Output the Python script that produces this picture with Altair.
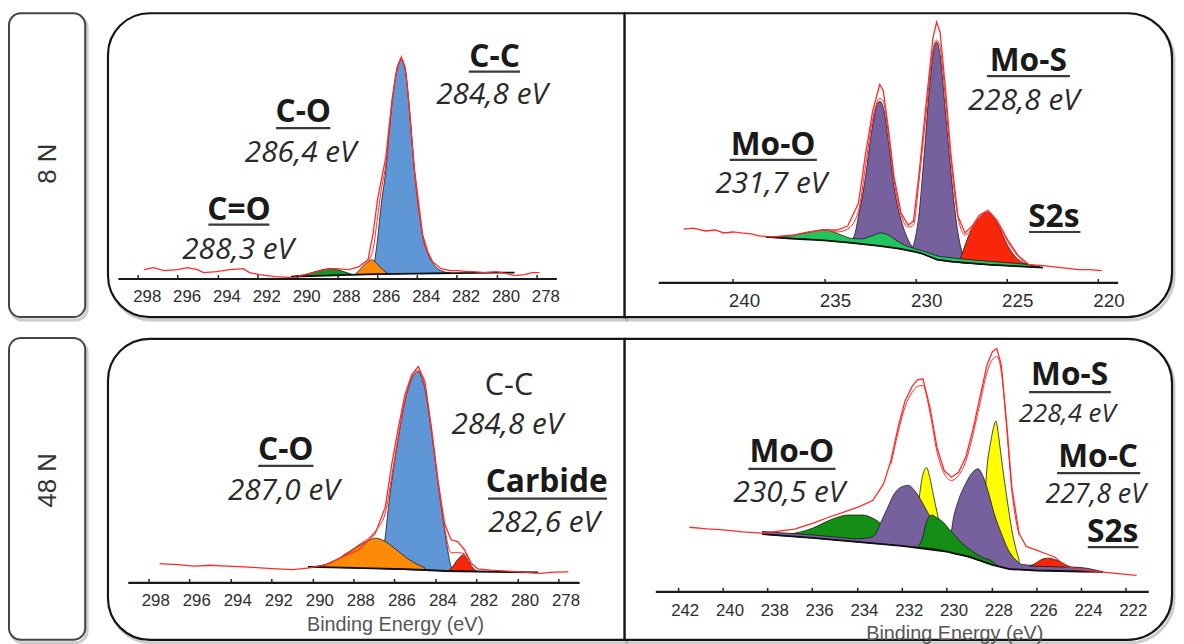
import altair as alt
import pandas as pd

AXIS_FONT = "Liberation Sans"
NOTE_FONT = "Open Sans"

BLUE = "#5f97d6"
ORANGE = "#fb8a06"
GREEN_C = "#15952a"
GREEN_MO = "#22c45e"
GREEN_DARK = "#148e14"
PURPLE = "#77609e"
RED_S = "#f8260a"
YELLOW = "#ffff00"
LINE_RED = "#ff2a2a"

# ============ 8 N : C 1s ============
c8_ticks = [298, 296, 294, 292, 290, 288, 286, 284, 282, 280, 278]
c8_red_E = [297.7, 297.2, 296.7, 296.0, 295.5, 295.0, 294.7, 294.05, 293.4, 292.7, 292.4, 291.9, 291.1, 290.2, 289.4,
            288.6, 288.1, 287.4, 286.9, 286.45, 286.2, 285.97, 285.78, 285.56, 285.25, 285.01, 284.78, 284.57, 284.4,
            284.12, 283.71, 283.45, 283.21, 282.8, 282.3, 281.95, 281.5, 281.15, 280.6, 280.0, 279.5, 279.1, 278.6,
            278.2, 277.85]
c8_red_h = [9, 11, 8, 9, 11, 9, 6, 7, 9, 10, 6, 4, 2, 1, 5, 9, 10, 9, 12, 19, 45, 80, 100, 122, 180, 212, 224, 212,
            178, 110, 44, 27, 17, 10, 8, 8, 7, 7, 6, 7, 5, 3, 4, 6, 6]
c8_fit_E = [286.45, 286.19, 285.97, 285.78, 285.56, 285.25, 285.01, 284.78, 284.57, 284.4, 284.12, 283.71, 283.45]
c8_fit_h = [18, 30, 62, 90, 115, 177, 210, 222, 210, 177, 109, 43, 26]
c8_bg_E = [290.3, 288.5, 287.0, 286.0, 284.0, 282.0, 280.0, 279.1]
c8_bg_h = [2, 3, 4, 4.5, 5, 5.5, 6, 6]
c8_cc_E = [286.3, 286.19, 285.97, 285.78, 285.56, 285.40, 285.25, 285.01, 284.78, 284.57, 284.40, 284.25, 284.12,
           283.90, 283.71, 283.45, 283.21, 282.80, 282.30]
c8_cc_top = [5, 10, 40, 76, 109, 145, 176, 209, 221, 209, 176, 140, 109, 70, 43, 25, 16, 8, 5.6]
c8_cc_base = [4.3, 4.3, 4.4, 4.5, 4.6, 4.7, 4.7, 4.8, 4.9, 5.0, 5.0, 5.0, 5.0, 5.1, 5.2, 5.3, 5.4, 5.5, 5.6]
c8_co_E = [287.1, 286.9, 286.68, 286.45, 286.27, 286.05, 285.86, 285.65, 285.44]
c8_co_top = [4, 8, 13, 17, 19, 16, 12, 8, 4.6]
c8_co_base = [3.8, 3.9, 4.0, 4.2, 4.3, 4.4, 4.5, 4.5, 4.6]
c8_cdo_E = [290.3, 289.6, 289.0, 288.6, 288.34, 288.0, 287.6, 287.2]
c8_cdo_top = [2, 4, 7.5, 9.5, 10, 9, 6.5, 3.8]
c8_cdo_base = [2, 2.5, 3, 3, 3.2, 3.4, 3.6, 3.8]
c8_bold_t = ["C-C", "C-O", "C=O"]
c8_bold_E = [280.1, 289.7, 292.92]
c8_bold_h = [214, 157.7, 59.3]
c8_ital_t = ["284,8 eV", "286,4 eV", "288,3 eV"]
c8_ital_E = [280.23, 289.83, 292.97]
c8_ital_h = [176, 117.7, 19.3]
c8_ul_x1 = [281.39, 291.07, 294.46]
c8_ul_x2 = [278.83, 288.34, 291.40]
c8_ul_h = [209, 152, 54.5]

# ============ 8 N : Mo 3d ============
m8_ticks = [240, 235, 230, 225, 220]
m8_red_E = [242.7, 242.2, 241.5, 241.0, 240.5, 240.0, 239.56, 239.0, 238.58, 237.8, 237.2, 236.63, 235.85, 234.98,
            234.29, 233.71, 233.12, 232.73, 232.34, 231.95, 231.76, 231.46, 231.17, 230.78, 230.39, 230.1, 229.81,
            229.41, 229.03, 228.83, 228.64, 228.35, 228.05, 227.66, 227.27, 226.88, 226.49, 226.01, 225.52, 224.93,
            224.35, 223.76, 222.98, 222.5, 222.01, 221.5, 221.04, 220.4, 219.77]
m8_red_h = [54, 55, 52, 53, 50, 51, 50, 49, 47, 46, 47, 48, 51, 53, 53, 57, 80, 130, 173, 200, 194, 153, 107, 70, 58,
            62, 107, 180, 247, 263, 253, 197, 130, 67, 50, 57, 68, 73, 63, 43, 27, 18, 17, 16, 15, 14, 13, 13, 12]
m8_fit_E = [235.85, 234.98, 234.29, 233.71, 233.12, 232.73, 232.34, 231.95, 231.76, 231.46, 231.17, 230.78, 230.39,
            230.1, 229.81, 229.41, 229.03, 228.83, 228.64, 228.35, 228.05, 227.66, 227.27, 226.88, 226.49, 226.01,
            225.52, 224.93, 224.35, 223.76]
m8_fit_h = [50, 53, 51, 54, 72, 118, 165, 186, 183, 148, 104, 68, 56, 58, 100, 170, 235, 245, 238, 186, 125, 66, 48,
            55, 66, 71, 61, 41, 26, 18]
m8_bg_E = [238.19, 236.6, 235.0, 233.5, 232.0, 230.8, 230.0, 229.6, 229.2, 228.8, 228.0, 227.0, 226.0, 225.0, 224.0,
           223.0]
m8_bg_h = [46, 44, 42.5, 40, 37, 34, 31, 29, 26, 23, 21, 19.5, 18, 17, 16, 15]
m8_moo_E = [238.19, 237.0, 236.3, 235.5, 235.0, 234.5, 234.0, 233.5, 233.0, 232.4, 231.9, 231.5, 231.0, 230.5, 230.0,
            229.6, 229.2, 228.8, 228.0, 227.0, 226.0, 225.0, 224.0, 223.0]
m8_moo_top = [46, 47, 49, 52, 53.5, 51, 47.5, 44.5, 44, 47, 50, 48, 42, 37, 34, 32, 29.5, 27, 25, 23, 21.5, 20,
              18.5, 15]
m8_moo_base = [46, 44.9, 44.2, 43.3, 42.5, 41.7, 40.8, 40, 39, 37.8, 36.8, 36, 34.5, 32.5, 31, 29, 26, 23, 21, 19.5,
               18, 17, 16, 15]
m8_mos1_E = [233.6, 233.3, 233.12, 232.93, 232.73, 232.44, 232.15, 231.95, 231.76, 231.46, 231.17, 230.98, 230.78,
             230.39, 230.0]
m8_mos1_top = [40.2, 50, 67, 85, 107, 147, 177, 183, 177, 140, 97, 78, 63, 43, 32]
m8_mos1_base = [40.2, 39.6, 39.3, 38.9, 38.5, 38, 37.5, 37, 36.5, 35.8, 35, 34.5, 34, 32.5, 31]
m8_mos2_E = [230.3, 230.2, 230.0, 229.81, 229.51, 229.22, 228.97, 228.83, 228.64, 228.35, 228.05, 227.76, 227.47,
             227.27, 227.0]
m8_mos2_top = [32.5, 34, 45, 67, 130, 197, 237, 243, 230, 173, 113, 63, 33, 24, 19.5]
m8_mos2_base = [32, 32, 31, 30, 28, 26, 24, 23, 22.5, 22, 21, 20.5, 20, 19.5, 19.5]
m8_s2s_E = [227.6, 227.47, 227.08, 226.49, 226.01, 225.52, 224.93, 224.35, 223.76, 223.18]
m8_s2s_top = [20, 27, 47, 65, 71, 60, 37, 23, 18, 15.5]
m8_s2s_base = [20, 20, 19.5, 18.5, 18, 17.5, 17, 16.5, 16, 15.5]
m8_bold_t = ["Mo-S", "Mo-O", "S2s"]
m8_bold_E = [223.8, 237.8, 222.4]
m8_bold_h = [213.3, 128.3, 56]
m8_ital_t = ["228,8 eV", "231,7 eV"]
m8_ital_E = [224.05, 237.9]
m8_ital_h = [174, 90]
m8_ul_x1 = [226.07, 240.18, 223.76]
m8_ul_x2 = [221.52, 235.4, 220.94]
m8_ul_h = [208.5, 123.8, 51]

# ============ 48 N : C 1s ============
c48_ticks = [298, 296, 294, 292, 290, 288, 286, 284, 282, 280, 278]
c48_red_E = [297.45, 296.57, 295.77, 294.96, 294.16, 293.36, 292.55, 291.75, 290.95, 290.14, 289.34, 288.54, 287.73,
             286.93, 286.45, 286.13, 285.81, 285.49, 285.16, 284.84, 284.52, 284.20, 283.88, 283.56, 283.24, 282.92,
             282.59, 282.27, 281.95, 281.31, 280.51, 279.70, 278.90, 278.26, 277.53]
c48_red_h = [19, 18, 16.5, 17.3, 16.5, 15.7, 14.7, 13.7, 13, 14.7, 18, 25.7, 33, 49.7, 76, 119.7, 156.3, 189.7, 209.7,
             218, 203, 156.3, 103, 59.7, 43, 41.3, 33, 19.7, 13.7, 12.3, 11.3, 10.3, 9, 10.3, 10.7]
c48_fit_E = [288.54, 287.73, 286.93, 286.45, 286.13, 285.81, 285.49, 285.16, 284.84, 284.52, 284.20, 283.88, 283.56,
             283.24, 282.92, 282.59, 282.27]
c48_fit_h = [27, 38, 52, 70, 108, 148, 184, 207, 214, 198, 154, 101, 56, 30, 30, 29, 18]
c48_bg_E = [290.22, 288.5, 287.0, 285.5, 284.5, 283.5, 282.0, 280.5, 279.0]
c48_bg_h = [15.7, 15, 14.2, 13.3, 12.5, 11.5, 11, 10.5, 10.2]
c48_cc_E = [286.6, 286.45, 286.30, 286.13, 285.97, 285.81, 285.65, 285.49, 285.33, 285.16, 285.0, 284.84, 284.68,
            284.52, 284.36, 284.20, 284.04, 283.88, 283.72, 283.56, 283.40, 283.24, 283.08]
c48_cc_top = [25, 46, 75, 103, 126, 146, 166, 183, 196, 206, 211, 213, 207, 196, 176, 153, 127, 100, 76, 53, 32, 16,
              12]
c48_cc_base = [13.8, 13.7, 13.6, 13.4, 13.3, 13.2, 13.1, 13.0, 12.9, 12.8, 12.7, 12.6, 12.5, 12.4, 12.3, 12.2, 12.0,
               11.9, 11.8, 11.6, 11.5, 11.4, 11.3]
c48_co_E = [290.14, 289.34, 288.54, 287.73, 287.3, 286.93, 286.45, 285.81, 285.16, 284.52]
c48_co_top = [15.8, 18, 26.3, 37, 42, 44.7, 41.3, 31.3, 21.3, 14.7]
c48_co_base = [15.7, 15.2, 14.8, 14.3, 14.0, 13.9, 13.7, 13.2, 12.8, 12.4]
c48_carb_E = [283.4, 283.24, 282.92, 282.63, 282.36, 282.11, 281.95]
c48_carb_top = [11.6, 14, 23, 28, 20, 13, 11.2]
c48_carb_base = [11.5, 11.4, 11.2, 11.1, 11.0, 11.0, 11.0]
c48_bold_t = ["C-O", "Carbide"]
c48_bold_E = [291.3, 278.58]
c48_bold_h = [123.7, 91.3]
c48_reg_t = ["C-C"]
c48_reg_E = [280.42]
c48_reg_h = [189]
c48_ital_t = ["284,8 eV", "287,0 eV", "282,6 eV"]
c48_ital_E = [280.5, 291.4, 278.71]
c48_ital_h = [149.7, 83, 51.3]
c48_ul_x1 = [292.64, 281.44]
c48_ul_x2 = [289.95, 275.64]
c48_ul_h = [117.7, 84.7]

# ============ 48 N : Mo 3d ============
m48_ticks = [242, 240, 238, 236, 234, 232, 230, 228, 226, 224, 222]
m48_red_E = [241.48, 240.7, 239.96, 239.1, 238.22, 236.79, 235.99, 235.2, 234.56, 233.92, 233.29, 232.81, 232.49,
             232.17, 231.86, 231.54, 231.30, 231.06, 230.74, 230.43, 230.11, 229.79, 229.47, 229.15, 228.84, 228.52,
             228.20, 227.96, 227.76, 227.56, 227.33, 227.09, 226.77, 226.45, 226.05, 225.66, 225.18, 224.70, 224.07,
             223.03, 221.52]
m48_red_h = [64.7, 63, 62, 60, 58.7, 62.7, 68.7, 75.3, 80.3, 85.3, 92, 108.7, 132, 165.3, 192, 207, 213.7, 214.7,
             185.3, 145.3, 122, 115.3, 120.3, 135.3, 162, 195.3, 228.7, 242, 245.3, 228.7, 172, 105.3, 58.7, 45.3, 42,
             38.7, 34.7, 25.3, 22, 19.3, 16]
m48_fit_E = [232.49, 232.17, 231.86, 231.54, 231.30, 231.06, 230.74, 230.43, 230.11, 229.79, 229.47, 229.15, 228.84,
             228.52, 228.20, 227.96, 227.76, 227.56, 227.33, 227.09, 226.77]
m48_fit_h = [128, 160, 186, 201, 207, 208, 180, 141, 119, 112, 117, 131, 157, 189, 221, 234, 237, 222, 167, 102, 57]
m48_bg_E = [238.22, 236.0, 234.0, 232.0, 230.0, 229.0, 228.0, 227.2, 226.0, 224.0, 223.03]
m48_bg_h = [57.7, 54, 50, 46, 40, 35, 27, 22.5, 21, 20, 19.7]
m48_moo1_E = [238.22, 237.1, 235.99, 235.2, 234.4, 233.76, 233.29, 232.89, 232.65, 232.17, 231.7]
m48_moo1_top = [57.7, 58, 63.7, 72, 77, 77, 73.7, 67, 58.7, 52, 45.4]
m48_moo1_base = [57.7, 55.8, 54, 52.4, 50.8, 49.5, 48.6, 47.8, 47.3, 46.3, 45.4]
m48_mos1_E = [238.22, 237.0, 236.0, 235.0, 234.0, 233.3, 232.89, 232.65, 232.33, 232.02, 231.70, 231.38, 230.90,
              230.43, 230.11, 229.63, 229.15, 228.6]
m48_mos1_top = [60.5, 58.5, 57, 55, 53, 55, 72, 83.7, 98.7, 105.3, 107, 100.3, 82, 62, 50.3, 38.7, 37, 31.5]
m48_mos1_base = [57.7, 55.6, 54, 52, 50, 48.6, 47.8, 47.3, 46.7, 46.0, 45.4, 44.8, 43.8, 42.6, 41.2, 38.2, 35.5, 31.5]
m48_mos2_E = [229.9, 229.71, 229.47, 229.15, 228.84, 228.6, 228.36, 228.12, 227.88, 227.56, 227.25, 226.93, 226.61,
              226.0, 225.0, 224.0, 223.03]
m48_mos2_top = [39.5, 72, 92, 108.7, 120.3, 123.7, 115.3, 98.7, 78.7, 58.7, 42, 32, 27, 26, 25, 24, 19.7]
m48_mos2_base = [39.5, 38.5, 37.2, 35.5, 33.5, 31.8, 29.9, 28.1, 26.3, 24.5, 22.8, 22.2, 21.8, 21, 20.5, 20, 19.7]
m48_moo2_E = [231.3, 231.06, 230.9, 230.66, 230.43, 230.27, 229.79, 229.31, 228.84, 228.36, 228.04, 227.7]
m48_moo2_top = [44.6, 55, 70, 77, 74, 72, 60.3, 48.7, 40.3, 33.7, 31.3, 25.3]
m48_moo2_base = [44.6, 44, 43.8, 43.3, 42.6, 41.9, 39, 36.5, 33.5, 29.9, 27.5, 25.3]
m48_moc1_E = [231.5, 231.38, 231.22, 231.06, 230.9, 230.75, 230.59, 230.43, 230.27, 230.11, 229.8, 229.5]
m48_moc1_top = [45.5, 60, 95, 118, 125, 115, 97, 80, 62, 48, 40, 37]
m48_moc1_base = [45.5, 45, 44.5, 44, 43.8, 43.5, 43, 42.6, 41.9, 41.2, 39, 37]
m48_moc2_E = [228.5, 228.36, 228.2, 228.04, 227.96, 227.88, 227.80, 227.7, 227.56, 227.41, 227.25, 227.09, 226.93,
              226.77]
m48_moc2_top = [31, 70, 125, 150, 160, 168, 172, 160, 135, 110, 85, 62, 45, 32]
m48_moc2_base = [31, 29.9, 28.6, 27.6, 27.2, 26.8, 26.2, 25.4, 24.5, 23.6, 22.8, 22.4, 22.2, 22]
m48_s2s_E = [226.3, 226.05, 225.85, 225.66, 225.42, 225.18, 224.94, 224.70, 224.45]
m48_s2s_top = [25.5, 28, 31, 33, 33.5, 32, 30, 27, 24.3]
m48_s2s_base = [25.5, 25.3, 25.2, 25.1, 25, 24.8, 24.6, 24.5, 24.3]
m48_bold_t = ["Mo-S", "Mo-C", "S2s", "Mo-O"]
m48_bold_E = [224.51, 223.24, 222.59, 236.91]
m48_bold_h = [208.7, 125.3, 49.3, 130.3]
m48_ital_t = ["228,4 eV", "227,8 eV", "230,5 eV"]
m48_ital_E = [224.62, 223.35, 237.02]
m48_ital_h = [171.3, 89.3, 90.3]
m48_ital_fs = [26, 27, 30]
m48_ul_x1 = [226.32, 225.07, 223.70, 238.85]
m48_ul_x2 = [222.67, 221.36, 221.44, 234.96]
m48_ul_h = [201.3, 119.3, 44.7, 123.7]

ROW_LABELS = ["8 N", "48 N"]
AXIS_TITLE = "Binding Energy (eV)"

ONE = pd.DataFrame({"k": [0]})


def frame_layers(fx, fx2, fy, fy2, corners, stroke="#161616", sw=2.2):
    shadow = alt.Chart(ONE).mark_rect(fillOpacity=0, stroke="#9a9a9a", strokeWidth=3, strokeOpacity=0.5,
                                      **corners).encode(
        x=alt.value(fx + 2), x2=alt.value(fx2 + 2), y=alt.value(fy + 3), y2=alt.value(fy2 + 3))
    box = alt.Chart(ONE).mark_rect(fill="white", stroke=stroke, strokeWidth=sw, **corners).encode(
        x=alt.value(fx), x2=alt.value(fx2), y=alt.value(fy), y2=alt.value(fy2))
    return [shadow, box]


def panel(P):
    xs = alt.Scale(domain=P["domain"], range=P["rng"], nice=False, zero=False)
    ys = alt.Scale(domain=[0, P["height"]], nice=False, zero=False)
    fx, fx2, fy, fy2, corners = P["frame"]
    layers = frame_layers(fx, fx2, fy, fy2, corners)

    for E, top, base, col in P["comps"]:
        d = pd.DataFrame({"E": E, "top": top, "base": base})
        layers.append(alt.Chart(d).mark_area(fill=col, stroke="#1a1a1a", strokeWidth=0.8, opacity=1,
                                             interpolate="monotone").encode(
            x=alt.X("E:Q", scale=xs, axis=None),
            y=alt.Y("top:Q", scale=ys, axis=None),
            y2="base:Q"))

    axis_kw = dict(orient="bottom", values=P["ticks"], ticks=False, tickSize=0, domain=True,
                   domainColor="#1a1a1a", domainWidth=2.2, labelFont=AXIS_FONT, labelFontSize=P["lab_fs"],
                   labelColor="#2e2e2e", labelPadding=P["lab_pad"], labelOffset=P["lab_off"], labelFlush=False,
                   labelOverlap=False, grid=False, zindex=2)
    if P.get("title"):
        axis_kw.update(title=P["title"], titleFont=AXIS_FONT, titleFontSize=20, titleFontWeight="normal",
                       titleColor="#555555", titleX=P["title_x"], titleY=P["title_y"], titleAlign="center",
                       titleBaseline="alphabetic")
    else:
        axis_kw.update(title=None)
    main_axis = alt.Axis(**axis_kw)
    tick_axis = alt.Axis(orient="bottom", values=P["ticks"], ticks=True, tickSize=4, tickWidth=1.5,
                         tickColor="#222222", domain=False, labels=False, grid=False, offset=-4, title=None,
                         zindex=2)

    bg = pd.DataFrame({"E": P["bg"][0], "h": P["bg"][1]})
    layers.append(alt.Chart(bg).mark_line(color="#111111", strokeWidth=1.8).encode(
        x=alt.X("E:Q", scale=xs, axis=main_axis), y=alt.Y("h:Q", scale=ys, axis=None)))

    fit = pd.DataFrame({"E": P["fit"][0], "h": P["fit"][1]})
    layers.append(alt.Chart(fit).mark_line(color=LINE_RED, strokeWidth=1.0, interpolate="monotone").encode(
        x=alt.X("E:Q", scale=xs, axis=None), y=alt.Y("h:Q", scale=ys, axis=None)))

    red = pd.DataFrame({"E": P["red"][0], "h": P["red"][1]})
    layers.append(alt.Chart(red).mark_line(color=LINE_RED, strokeWidth=1.3).encode(
        x=alt.X("E:Q", scale=xs, axis=tick_axis), y=alt.Y("h:Q", scale=ys, axis=None)))

    ul = pd.DataFrame({"x1": P["ul"][0], "x2": P["ul"][1], "h": P["ul"][2]})
    layers.append(alt.Chart(ul).mark_rule(color="#3a3a3a", strokeWidth=2.2).encode(
        x=alt.X("x1:Q", scale=xs, axis=None), x2="x2:Q", y=alt.Y("h:Q", scale=ys, axis=None)))

    for key, weight, style, color in [("bold", "bold", "normal", "#1a1a1a"),
                                      ("reg", "normal", "normal", "#2a2a2a"),
                                      ("ital", "normal", "italic", "#2a2a2a")]:
        if key not in P:
            continue
        t, E, h, fs = P[key]
        d = pd.DataFrame({"t": t, "E": E, "h": h, "fs": fs})
        layers.append(alt.Chart(d).mark_text(font=NOTE_FONT, fontWeight=weight, fontStyle=style, color=color,
                                             align="center", baseline="alphabetic").encode(
            x=alt.X("E:Q", scale=xs, axis=None), y=alt.Y("h:Q", scale=ys, axis=None), text="t:N",
            size=alt.Size("fs:Q", scale=None, legend=None)))

    return alt.layer(*layers).resolve_axis(x="independent").properties(width=P["width"], height=P["height"])


def label_chart(text, W, H, by, by2, ty):
    layers = frame_layers(0, 77, by, by2, dict(cornerRadius=12), stroke="#444444", sw=2)
    layers.append(alt.Chart(ONE).mark_text(text=text, angle=270, font=AXIS_FONT, fontSize=26, color="#333333",
                                           align="center", baseline="middle").encode(
        x=alt.value(39), y=alt.value(ty)))
    return alt.layer(*layers).properties(width=W, height=H)


LEFT = dict(cornerRadiusTopLeft=42, cornerRadiusBottomLeft=42)
RIGHT = dict(cornerRadiusTopRight=45, cornerRadiusBottomRight=45)

P1 = dict(width=522, height=264, domain=[299, 277], rng=[10, 453], ticks=c8_ticks, lab_fs=17, lab_pad=10,
          lab_off=9, frame=(0, 522, -4, 303, LEFT),
          comps=[(c8_cc_E, c8_cc_top, c8_cc_base, BLUE), (c8_co_E, c8_co_top, c8_co_base, ORANGE),
                 (c8_cdo_E, c8_cdo_top, c8_cdo_base, GREEN_C)],
          bg=(c8_bg_E, c8_bg_h), red=(c8_red_E, c8_red_h), fit=(c8_fit_E, c8_fit_h),
          ul=(c8_ul_x1, c8_ul_x2, c8_ul_h),
          bold=(c8_bold_t, c8_bold_E, c8_bold_h, [32] * 3),
          ital=(c8_ital_t, c8_ital_E, c8_ital_h, [30] * 3))

P2 = dict(width=530, height=268, domain=[244.1, 218.9], rng=[11, 475], ticks=m8_ticks, lab_fs=19, lab_pad=9,
          lab_off=11, frame=(-23, 530, -4, 303, RIGHT),
          comps=[(m8_mos1_E, m8_mos1_top, m8_mos1_base, PURPLE), (m8_mos2_E, m8_mos2_top, m8_mos2_base, PURPLE),
                 (m8_s2s_E, m8_s2s_top, m8_s2s_base, RED_S), (m8_moo_E, m8_moo_top, m8_moo_base, GREEN_MO)],
          bg=(m8_bg_E, m8_bg_h), red=(m8_red_E, m8_red_h), fit=(m8_fit_E, m8_fit_h),
          ul=(m8_ul_x1, m8_ul_x2, m8_ul_h),
          bold=(m8_bold_t, m8_bold_E, m8_bold_h, [32] * 3),
          ital=(m8_ital_t, m8_ital_E, m8_ital_h, [30] * 2))

P3 = dict(width=522, height=243, domain=[299, 277], rng=[20, 476], ticks=c48_ticks, lab_fs=17, lab_pad=10,
          lab_off=7, frame=(0, 522, -3, 301, LEFT), title=AXIS_TITLE, title_x=290, title_y=48.5,
          comps=[(c48_cc_E, c48_cc_top, c48_cc_base, BLUE), (c48_co_E, c48_co_top, c48_co_base, ORANGE),
                 (c48_carb_E, c48_carb_top, c48_carb_base, RED_S)],
          bg=(c48_bg_E, c48_bg_h), red=(c48_red_E, c48_red_h), fit=(c48_fit_E, c48_fit_h),
          ul=(c48_ul_x1, c48_ul_x2, c48_ul_h),
          bold=(c48_bold_t, c48_bold_E, c48_bold_h, [32] * 2),
          reg=(c48_reg_t, c48_reg_E, c48_reg_h, [31]),
          ital=(c48_ital_t, c48_ital_E, c48_ital_h, [30] * 3))

P4 = dict(width=530, height=252, domain=[243, 221], rng=[8, 506], ticks=m48_ticks, lab_fs=17, lab_pad=11,
          lab_off=7, frame=(-23, 530, -3, 301, RIGHT), title=AXIS_TITLE, title_x=310, title_y=49,
          comps=[(m48_moc1_E, m48_moc1_top, m48_moc1_base, YELLOW),
                 (m48_moc2_E, m48_moc2_top, m48_moc2_base, YELLOW),
                 (m48_moo1_E, m48_moo1_top, m48_moo1_base, GREEN_DARK),
                 (m48_mos1_E, m48_mos1_top, m48_mos1_base, PURPLE),
                 (m48_mos2_E, m48_mos2_top, m48_mos2_base, PURPLE),
                 (m48_moo2_E, m48_moo2_top, m48_moo2_base, GREEN_DARK),
                 (m48_s2s_E, m48_s2s_top, m48_s2s_base, RED_S)],
          bg=(m48_bg_E, m48_bg_h), red=(m48_red_E, m48_red_h), fit=(m48_fit_E, m48_fit_h),
          ul=(m48_ul_x1, m48_ul_x2, m48_ul_h),
          bold=(m48_bold_t, m48_bold_E, m48_bold_h, [32] * 4),
          ital=(m48_ital_t, m48_ital_E, m48_ital_h, m48_ital_fs))

lab1 = label_chart(ROW_LABELS[0], 77, 264, -4, 303, 148)
lab2 = label_chart(ROW_LABELS[1], 77, 243, -4, 301, 140)

chart = alt.concat(lab1, panel(P1), panel(P2), lab2, panel(P3), panel(P4), columns=3,
                   spacing={"row": 60, "column": 23}, bounds="flush", align="each")
chart = chart.properties(padding=0).configure_view(strokeWidth=0)

chart.save("out.html", embed_options={"renderer": "svg", "actions": False})
